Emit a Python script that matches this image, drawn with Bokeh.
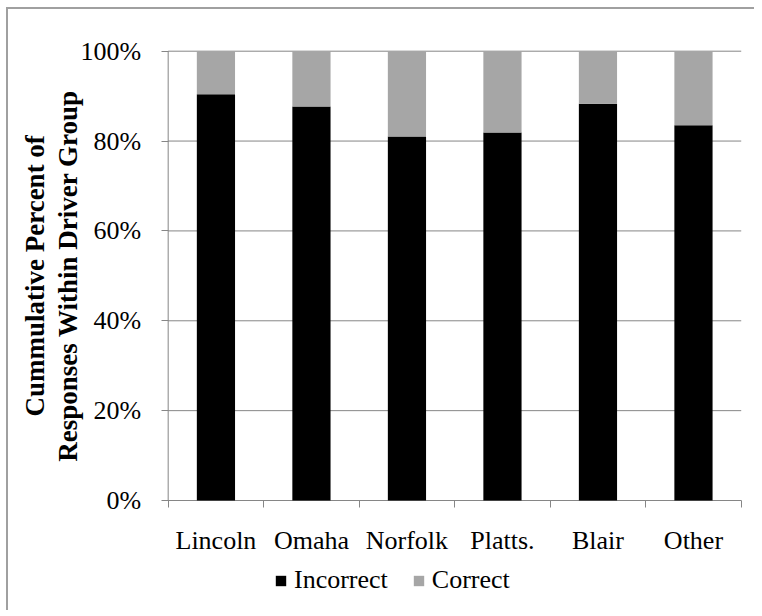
from bokeh.plotting import figure
from bokeh.models import FixedTicker, Range1d, Legend, LegendItem, ColumnDataSource, Label
from bokeh.embed import file_html
from bokeh.resources import INLINE

categories = ["Lincoln", "Omaha", "Norfolk", "Platts.", "Blair", "Other"]
incorrect = [90.4, 87.7, 81.0, 81.9, 88.3, 83.5]
correct = [9.6, 12.3, 19.0, 18.1, 11.7, 16.5]
y_ticks = [0, 20, 40, 60, 80, 100]
y_tick_labels = ["0%", "20%", "40%", "60%", "80%", "100%"]
y_title_lines = ["Cummulative Percent of", "Responses Within Driver Group"]
series_names = ["Incorrect", "Correct"]

FONT = "Liberation Serif"
GRID = "#868686"

n = len(categories)
xs = [i + 0.5 for i in range(n)]
src = ColumnDataSource(dict(x=xs, incorrect=incorrect, correct=correct))

# the frame spans the whole chart; axes sit at fixed locations inside it
p = figure(frame_width=746, frame_height=601, output_backend="svg", toolbar_location=None,
           x_range=Range1d(-1.672, 6.139), y_range=Range1d(-24.48, 109.28),
           min_border=0)
p.outline_line_color = None
p.background_fill_color = "white"
p.border_fill_color = "white"
p.styles = {"margin-left": "6px", "margin-top": "7px",
            "border-left": "2px solid #a0a0a0", "border-top": "2px solid #a0a0a0"}

# horizontal gridlines limited to the plot area, at the y ticks
p.segment(x0=[0] * len(y_ticks), x1=[n] * len(y_ticks), y0=y_ticks, y1=y_ticks,
          line_color=GRID, line_width=1)
# axis rules
p.segment(x0=[0, 0], x1=[0, n], y0=[y_ticks[0], y_ticks[0]], y1=[y_ticks[-1], y_ticks[0]],
          line_color=GRID, line_width=1)

r = p.vbar_stack(["incorrect", "correct"], x="x", width=0.4, source=src,
                 color=["#000000", "#a6a6a6"], line_width=0)

# x axis
p.xaxis.fixed_location = 0
p.xaxis.ticker = FixedTicker(ticks=xs, minor_ticks=list(range(n + 1)))
p.xaxis.major_label_overrides = {x: c for x, c in zip(xs, categories)}
p.xaxis.major_tick_line_color = None
p.xaxis.minor_tick_in = 0
p.xaxis.minor_tick_out = 7
p.xaxis.minor_tick_line_color = GRID
p.xaxis.axis_line_color = None
p.xaxis.major_label_text_font = FONT
p.xaxis.major_label_text_font_size = "26px"
p.xaxis.major_label_text_color = "black"
p.xaxis.major_label_standoff = 18
p.xgrid.grid_line_color = None

# y axis
p.yaxis.fixed_location = 0
p.yaxis.ticker = FixedTicker(ticks=y_ticks, minor_ticks=[])
p.yaxis.major_label_overrides = {t: l for t, l in zip(y_ticks, y_tick_labels)}
p.yaxis.major_tick_in = 0
p.yaxis.major_tick_out = 7
p.yaxis.major_tick_line_color = GRID
p.yaxis.axis_line_color = None
p.yaxis.major_label_text_font = FONT
p.yaxis.major_label_text_font_size = "26px"
p.yaxis.major_label_text_color = "black"
p.yaxis.major_label_standoff = 20
p.ygrid.grid_line_color = None

# y axis title (two lines, rotated)
for line, lx in zip(y_title_lines, [-1.39, -1.045]):
    p.add_layout(Label(x=lx, y=50, text=line, angle=90, angle_units="deg",
                       text_align="center", text_baseline="middle",
                       text_font=FONT, text_font_size="27px",
                       text_font_style="bold", text_color="black"))

legend = Legend(items=[LegendItem(label=series_names[0], renderers=[r[0]]),
                       LegendItem(label=series_names[1], renderers=[r[1]])],
                orientation="horizontal", location=(266, 15),
                label_text_font=FONT, label_text_font_size="26px",
                label_text_color="black",
                glyph_width=13, glyph_height=13, label_standoff=7, spacing=24,
                padding=0, margin=0, border_line_color=None,
                background_fill_alpha=0)
p.add_layout(legend, "center")

open("out.html", "w").write(file_html(p, INLINE))
